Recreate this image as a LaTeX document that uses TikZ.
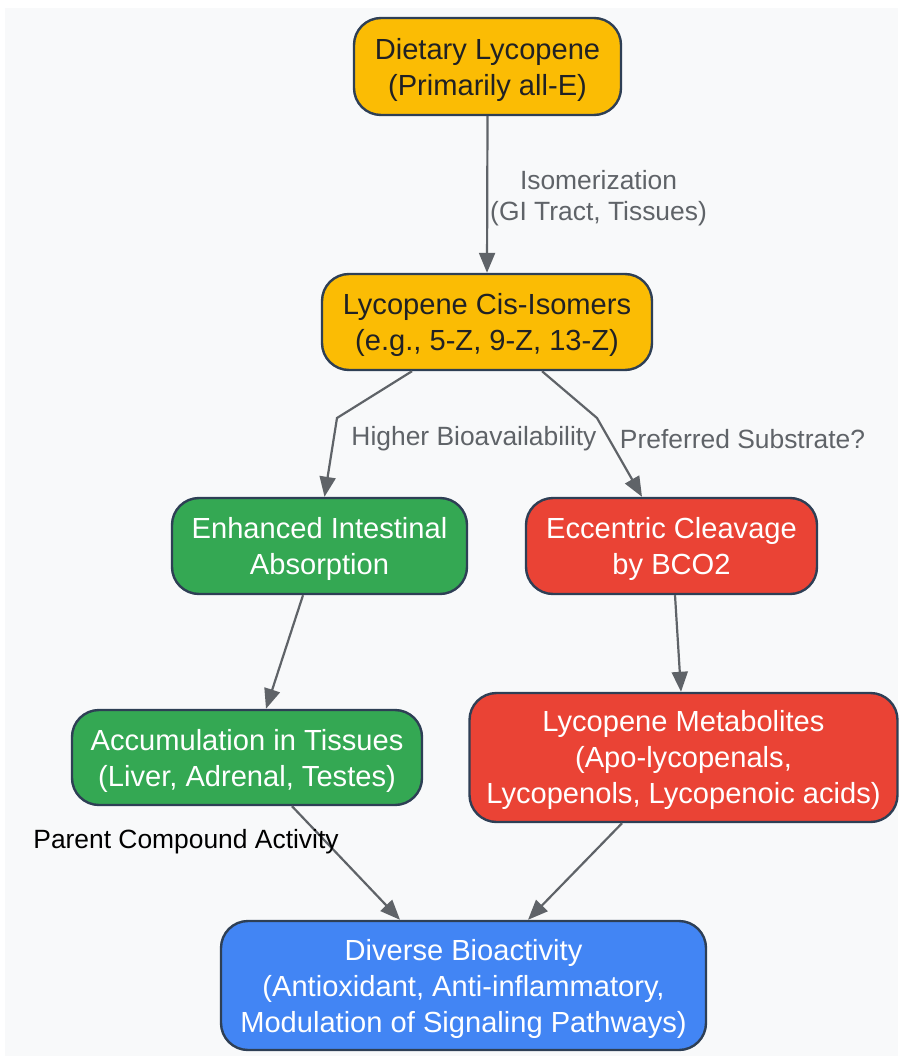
\documentclass[tikz,border=0pt]{standalone}
\usepackage{fontspec}
\setmainfont{Liberation Sans}
\usetikzlibrary{arrows.meta}
\definecolor{bgc}{HTML}{F8F9FA}
\definecolor{yel}{HTML}{FBBC04}
\definecolor{grn}{HTML}{34A853}
\definecolor{rdd}{HTML}{EA4335}
\definecolor{blu}{HTML}{4285F4}
\definecolor{bord}{HTML}{2E3F55}
\definecolor{edg}{HTML}{5F6368}
\definecolor{dtxt}{HTML}{202124}
\tikzset{
  box/.style={draw=bord, line width=2.4pt, rounded corners=27pt, inner sep=0pt},
  ntxt/.style={align=center, inner sep=0pt, font=\fontsize{29.1}{36}\selectfont},
  yb/.style={box, fill=yel},
  gb/.style={box, fill=grn},
  rb/.style={box, fill=rdd},
  bb/.style={box, fill=blu},
  conn/.style={draw=edg, line width=2.2pt, -{Triangle[length=20pt,width=16pt]}},
  elab/.style={text=edg, align=center, font=\fontsize{26.4}{31}\selectfont, inner sep=0pt},
}
\begin{document}
\begin{tikzpicture}[x=1pt,y=-1pt]
\useasboundingbox (0,0) rectangle (898,1056);
\fill[bgc] (5,8) rectangle (898,1056);
\node[yb, minimum width=267pt, minimum height=97pt] (diet) at (487.5,66.5) {};
\node[yb, minimum width=330pt, minimum height=96pt] (cis) at (487,322) {};
\node[gb, minimum width=295pt, minimum height=96pt] (enh) at (319.5,546) {};
\node[rb, minimum width=291pt, minimum height=96pt] (ecc) at (671.5,546) {};
\node[gb, minimum width=350pt, minimum height=95pt] (acc) at (247,757.5) {};
\node[rb, minimum width=428pt, minimum height=129pt] (met) at (683.5,757.5) {};
\node[bb, minimum width=485pt, minimum height=129pt] (div) at (463.5,985.5) {};

\node[ntxt, text=dtxt] (dietT) at ([yshift=-3pt]diet.center) {Dietary Lycopene\\(Primarily all-E)};
\node[ntxt, text=dtxt] (cisT) at ([yshift=-3pt]cis.center) {Lycopene Cis-Isomers\\(e.g., 5-Z, 9-Z, 13-Z)};
\node[ntxt, text=white] (enhT) at ([yshift=-3pt]enh.center) {Enhanced Intestinal\\Absorption};
\node[ntxt, text=white] (eccT) at ([yshift=-3pt]ecc.center) {Eccentric Cleavage\\by BCO2};
\node[ntxt, text=white] (accT) at ([yshift=-3pt]acc.center) {Accumulation in Tissues\\(Liver, Adrenal, Testes)};
\node[ntxt, text=white] (metT) at ([yshift=-2.5pt]met.center) {Lycopene Metabolites\\(Apo-lycopenals,\\Lycopenols, Lycopenoic acids)};
\node[ntxt, text=white] (divT) at ([yshift=-3pt]div.center) {Diverse Bioactivity\\(Antioxidant, Anti-inflammatory,\\Modulation of Signaling Pathways)};

\coordinate (b1) at (337,418);
\coordinate (b2) at (597,418);

\draw[conn] (diet.south) -- (cis.north);
\draw[conn] ([xshift=-75pt]cis.south) -- (b1) -- ([xshift=5pt]enh.north);
\draw[conn] ([xshift=55pt]cis.south) -- (b2) -- ([xshift=-29.5pt]ecc.north);
\draw[conn] ([xshift=-16.5pt]enh.south) -- ([xshift=19pt]acc.north);
\draw[conn] ([xshift=3.5pt]ecc.south) -- ([xshift=-2.5pt]met.north);
\draw[conn] ([xshift=45pt]acc.south) -- ([xshift=-63.5pt]div.north);
\draw[conn] ([xshift=-61.5pt]met.south) -- ([xshift=64.5pt]div.north);

\node[elab] (l1) at (598.5,198.5) {Isomerization\\(GI Tract, Tissues)};
\node[elab] (l2) at (474,439) {Higher Bioavailability};
\node[elab] (l3) at (742.5,439) {Preferred Substrate?};
\node[elab, text=black] (l4) at (186,841.5) {Parent Compound Activity};
\end{tikzpicture}
\end{document}
